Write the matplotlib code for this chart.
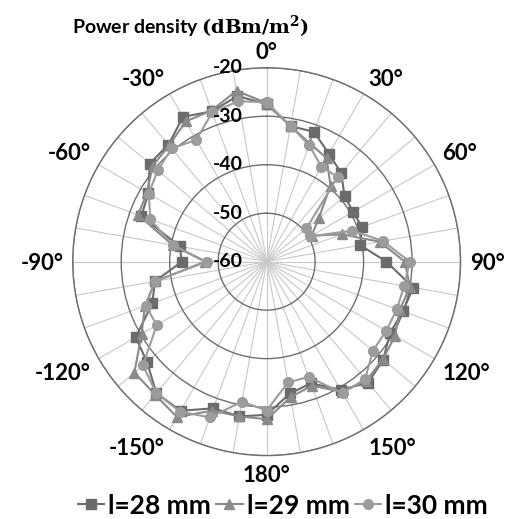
import numpy as np
import matplotlib.pyplot as plt

# angles in degrees, clockwise from top (0..350, step 10)
angles_deg = np.arange(0, 360, 10)

# power density (dBm/m^2), one value per spoke
l28 = [-27.5, -31.6, -31.5, -34.3, -36.1, -39.0, -39.4, -39.1, -40.4, -35.3,
       -29.3, -30.1, -30.6, -28.6, -27.4, -29.5, -33.3, -32.4, -28.4, -27.6,
       -27.8, -24.5, -24.6, -27.8, -28.8, -34.9, -36.6, -42.5, -41.8, -32.5,
       -31.8, -28.5, -28.5, -25.5, -27.0, -25.3]
l29 = [-27.3, -31.6, -34.0, -35.3, -39.5, -45.9, -49.3, -43.5, -36.3, -31.5,
       -30.0, -30.8, -29.4, -28.7, -28.0, -29.0, -32.8, -31.6, -27.5, -27.6,
       -27.3, -23.0, -24.2, -24.4, -30.2, -33.3, -36.6, -47.3, -40.3, -31.8,
       -31.5, -29.3, -28.7, -26.6, -26.8, -24.2]
l30 = [-27.1, -31.6, -34.4, -37.4, -37.2, -49.3, -49.6, -41.2, -35.6, -30.5,
       -31.2, -31.4, -31.5, -31.4, -28.4, -28.7, -34.7, -34.7, -29.3, -30.7,
       -25.8, -24.3, -24.6, -26.7, -33.8, -33.5, -36.6, -47.6, -40.3, -34.5,
       -31.9, -30.7, -29.5, -31.0, -27.2, -26.4]

series = [l28, l29, l30]
series_labels = ["l=28 mm", "l=29 mm", "l=30 mm"]
colors = ["#6b6b6b", "#8a8a8a", "#9c9c9c"]
markers = ["s", "^", "o"]

r_ticks = [-60, -50, -40, -30, -20]
label_angles = [0, 30, 60, 90, 120, 150, 180, 210, 240, 270, 300, 330]
angle_labels = ["0°", "30°", "60°", "90°", "120°", "150°", "180°",
                "-150°", "-120°", "-90°", "-60°", "-30°"]

plt.rcParams['font.family'] = ['Lato', 'DejaVu Sans']
plt.rcParams['font.weight'] = 'bold'
plt.rcParams['mathtext.fontset'] = 'dejavuserif'

fig = plt.figure(figsize=(5.05, 5.19), dpi=100)
ax = fig.add_axes([0.144, 0.122, 0.768, 0.7476], projection='polar')
ax.set_theta_zero_location('N')
ax.set_theta_direction(-1)
ax.set_ylim(-60, -20)

ax.set_xticks(np.deg2rad(angles_deg))
ax.set_xticklabels([])
ax.set_yticks(r_ticks[1:])
ax.set_yticklabels([])
ax.xaxis.grid(True, color='#c8c8c8', lw=0.8)
ax.yaxis.grid(True, color='#6e6e6e', lw=1.0)
ax.spines['polar'].set_color('#6e6e6e')
ax.spines['polar'].set_linewidth(1.0)

th = np.deg2rad(np.append(angles_deg, angles_deg[0]))
for vals, c, m, lab in zip(series, colors, markers, series_labels):
    v = np.append(vals, vals[0])
    ax.plot(th, v, color=c, marker=m, ms=7, lw=1.5, label=lab, clip_on=False)

# radial labels along the 0 deg spoke
for v in r_ticks:
    ax.annotate(f"{v}", xy=(0, v), xytext=(-17, 0), textcoords='offset points',
                ha='right', va='center', fontsize=14, fontweight='bold')

# angle labels, anchored by their edge nearest the ring
for a, s in zip(label_angles, angle_labels):
    sn, cs = np.sin(np.deg2rad(a)), np.cos(np.deg2rad(a))
    ha = 'left' if sn > 0.1 else ('right' if sn < -0.1 else 'center')
    va = 'baseline' if cs > 0.1 else ('top' if cs < -0.1 else 'center_baseline')
    ax.text(np.deg2rad(a), -18.1, s, ha=ha, va=va,
            fontsize=16, fontweight='bold')

fig.text(0.143, 0.934, r"Power density $\mathbf{(dBm/m^2)}$",
         fontsize=14, fontweight='bold', va='baseline')

fig.legend(loc='lower center', bbox_to_anchor=(0.56, -0.043), ncol=3,
           frameon=False, fontsize=19, handlelength=1.0, handletextpad=0.15,
           columnspacing=0.2)

fig.savefig("out.png", dpi=100)
